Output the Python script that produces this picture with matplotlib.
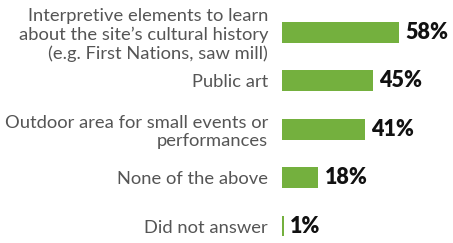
import matplotlib.pyplot as plt

# dados
categorias = [
    "Interpretive elements to learn\nabout the site\u2019s cultural history\n(e.g. First Nations, saw mill)",
    "Public art",
    "Outdoor area for small events or\nperformances",
    "None of the above",
    "Did not answer",
]
valores = [58, 45, 41, 18, 1]
rotulos = ["58%", "45%", "41%", "18%", "1%"]

verde = "#74B03E"
cinza = "#555555"

fig = plt.figure(figsize=(4.53, 2.43), dpi=100)
ax = fig.add_axes([282 / 453, 0.0, 161.6 / 453, 0.9866])

pos = list(range(len(categorias)))
ax.barh(pos, valores, height=0.43, color=verde)
ax.set_xlim(0, 80)
ax.set_ylim(4.35, -0.6)

ax.set_yticks(pos)
ax.set_yticklabels(categorias, fontsize=13.2, color=cinza, family="Lato",
                   linespacing=1.2)
ax.tick_params(axis="y", length=0, pad=10)
ax.set_xticks([])
for s in ax.spines.values():
    s.set_visible(False)

for p, v, r in zip(pos, valores, rotulos):
    ax.annotate(r, (v, p), xytext=(4.5, 0), textcoords="offset points",
                va="center", ha="left", fontsize=15.5, fontweight="heavy",
                color="#111111", family="Lato")

plt.savefig("out.png", dpi=100)
